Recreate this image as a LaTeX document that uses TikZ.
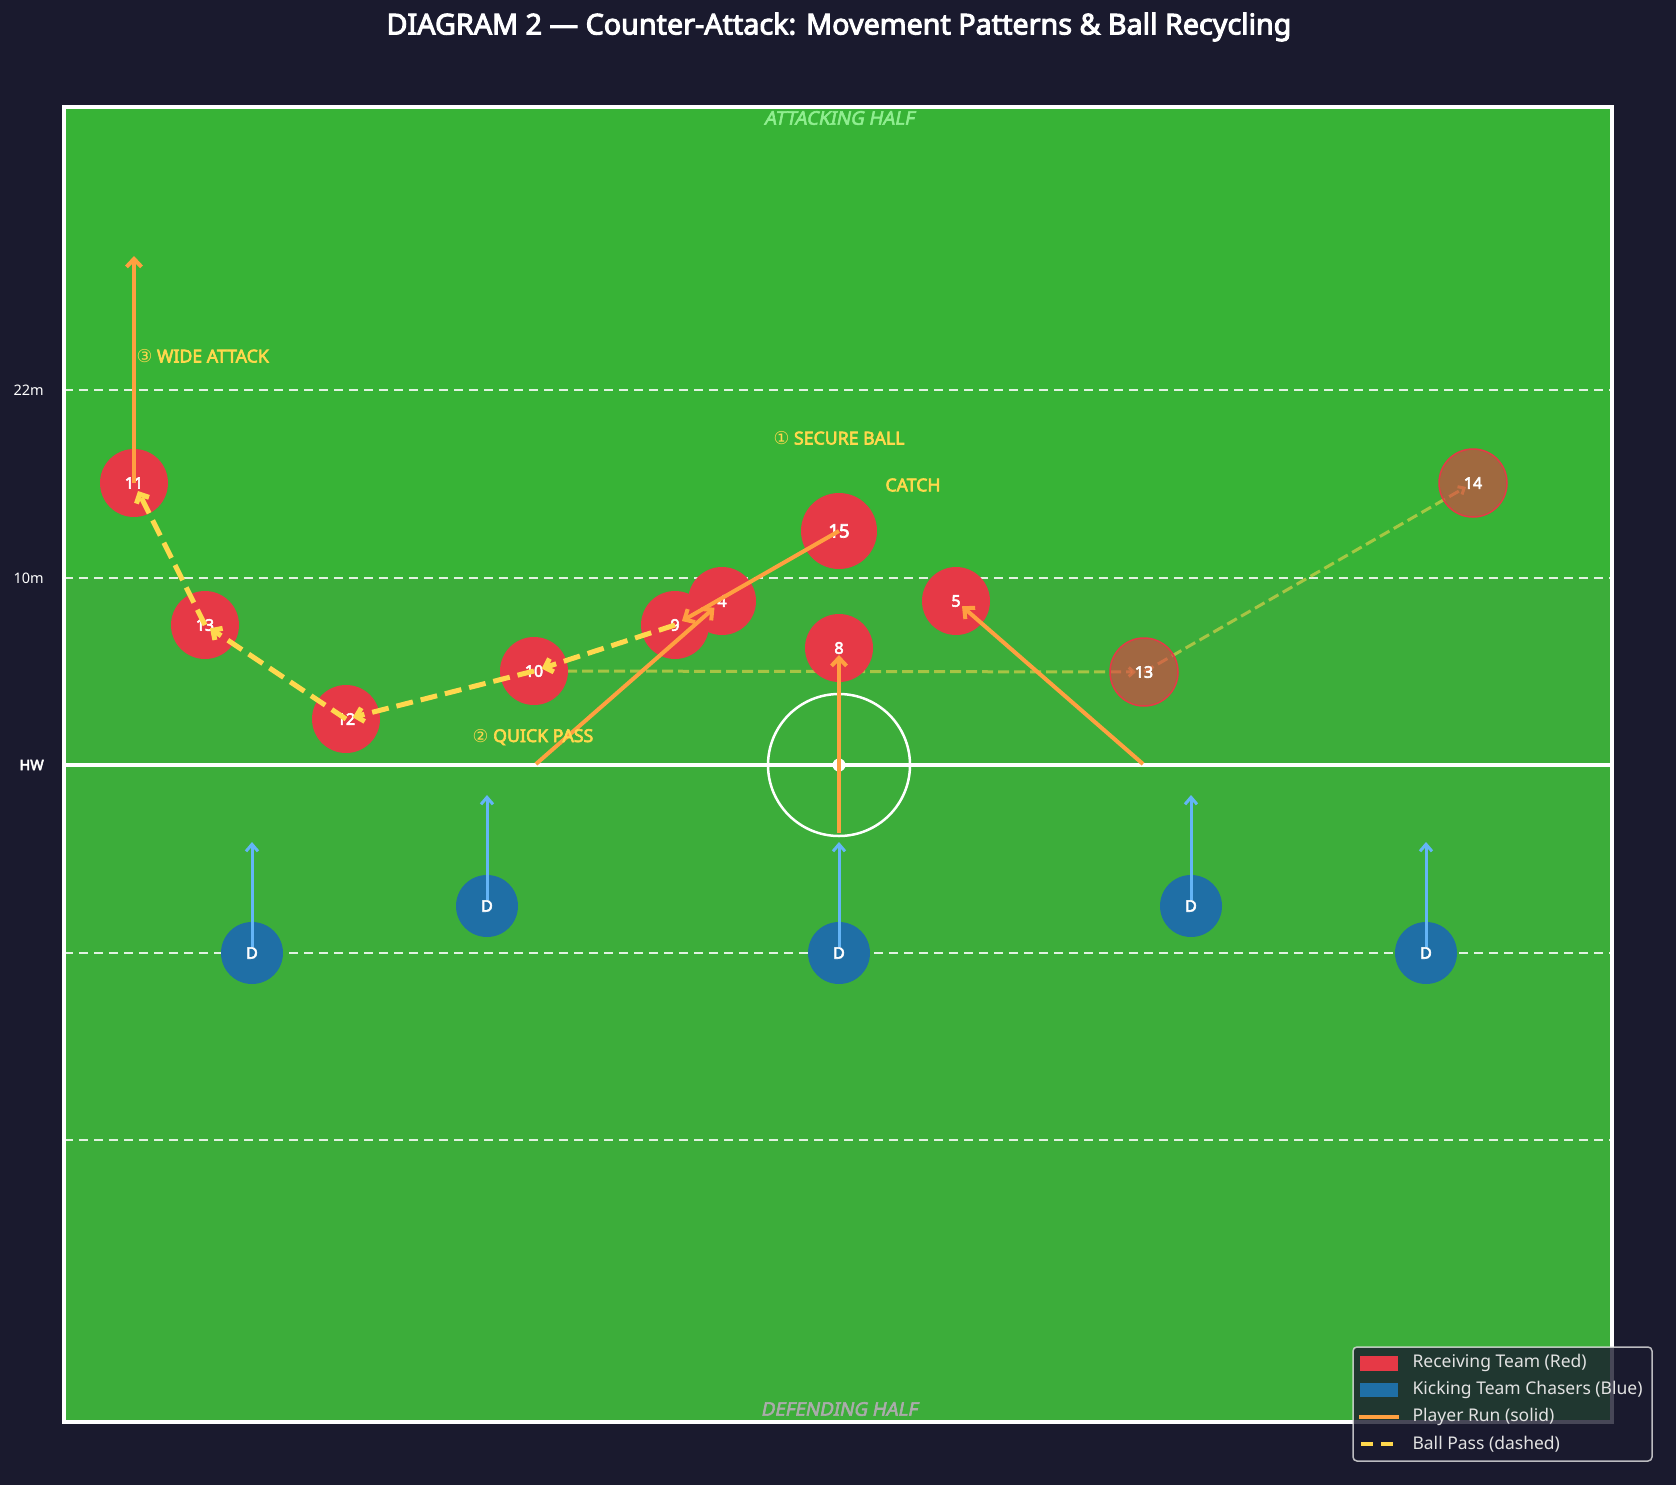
\documentclass[tikz,border=0pt]{standalone}
\usepackage{fontspec}
\setmainfont{Noto Sans}[AutoFakeBold=3.5]
\newfontfamily\circfont{DejaVu Sans}
\newfontfamily\halffont{Noto Sans}[FakeBold=3.2, FakeSlant=0.2]
\usetikzlibrary{arrows.meta}

\definecolor{bgnavy}{HTML}{1A1A2E}
\definecolor{pitchlow}{HTML}{3CAD3A}
\definecolor{pitchtop}{HTML}{37B336}
\definecolor{recred}{HTML}{E63946}
\definecolor{kickblue}{HTML}{1F6FA6}
\definecolor{chaseblue}{HTML}{64B5F6}
\definecolor{runorange}{HTML}{FFA040}
\definecolor{passyellow}{HTML}{FFD84D}
\definecolor{halfgreen}{HTML}{90EE90}
\definecolor{legendtext}{HTML}{E2E2E2}

\tikzset{
    player/.style={circle, fill=recred, text=white, inner sep=0pt, minimum size=68pt,
        font=\fontsize{16}{16}\selectfont\bfseries},
    fullback/.style={player, minimum size=76pt, font=\fontsize{18.5}{18.5}\selectfont\bfseries},
    ghost/.style={player, fill opacity=0.6, text opacity=1, draw=recred, line width=1.5pt},
    chaser/.style={circle, fill=kickblue, text=white, inner sep=0pt, minimum size=62pt,
        font=\fontsize{16}{16}\selectfont\bfseries},
    run/.style={runorange, line width=4pt, -{Straight Barb[length=8pt,width=15pt]}},
    chase/.style={chaseblue, line width=3pt, -{Straight Barb[length=7pt,width=12pt]}},
    pass/.style={passyellow, line width=5pt, dash pattern=on 17pt off 8pt,
        -{Straight Barb[length=7pt,width=14pt]}},
    ghostpass/.style={passyellow, opacity=0.55, line width=3pt, dash pattern=on 11pt off 5pt,
        -{Straight Barb[length=5pt,width=9pt]}},
    pitchline/.style={white, opacity=0.85, line width=2.5pt, dash pattern=on 9pt off 6pt},
    calltext/.style={text=passyellow, font=\fontsize{17.7}{17.7}\selectfont\bfseries},
    sidetext/.style={text=white, anchor=east, inner sep=0pt, font=\fontsize{14.5}{14.5}\selectfont},
    halftext/.style={font=\fontsize{18.7}{18.7}\halffont},
    legendlabel/.style={text=legendtext, anchor=west, font=\fontsize{17.5}{17.5}\selectfont}
}

\begin{document}
\begin{tikzpicture}[x=1pt, y=-1pt]
    \useasboundingbox (0,0) rectangle (1676,1485);

    % Define coordinates for the players
    \coordinate (c11) at (134,483);
    \coordinate (c13) at (205,625);
    \coordinate (c12) at (346,719);
    \coordinate (c10) at (534,671);
    \coordinate (c9) at (675,625);
    \coordinate (c4) at (722,601);
    \coordinate (c15) at (839,531);
    \coordinate (c8) at (839,648);
    \coordinate (c5) at (956,601);
    \coordinate (cg13) at (1144,672);
    \coordinate (cg14) at (1473,483);

    % Background and pitch
    \fill[bgnavy] (0,0) rectangle (1676,1485);
    \fill[pitchlow] (64,107) rectangle (1612,1422);
    \fill[pitchtop] (64,107) rectangle (1612,578);

    % Pitch markings
    \foreach \y in {390, 578, 953, 1140} {
        \draw[pitchline] (64,\y) -- (1612,\y);
    }
    \draw[white, line width=3.5pt] (64,765) -- (1612,765);
    \draw[white, line width=2.5pt] (839,765) circle (71);
    \fill[white] (839,765) circle (6.5);
    \draw[white, line width=3.5pt] (64,107) rectangle (1612,1422);

    % Side markers
    \node[sidetext] (m22) at (44,390) {22m};
    \node[sidetext] (m10) at (44,578) {10m};
    \node[sidetext, font=\fontsize{14.5}{14.5}\selectfont\bfseries] (mhw) at (44,765) {HW};

    % Title and half labels
    \node[text=white, font=\fontsize{28.7}{28.7}\selectfont\bfseries] (title) at (839,27)
        {DIAGRAM 2 — Counter-Attack: Movement Patterns \& Ball Recycling};
    \node[halftext, text=halfgreen] (atk) at (839,118) {ATTACKING HALF};
    \node[halftext, text=white!67!black] (def) at (839,1409) {DEFENDING HALF};

    % Later passes (faded)
    \draw[ghostpass, shorten >=8pt] (c10) -- (cg13);
    \draw[ghostpass, shorten >=8pt] (cg13) -- (cg14);

    % Receiving team
    \node[player] (p11) at (c11) {11};
    \node[player] (p13) at (c13) {13};
    \node[player] (p12) at (c12) {12};
    \node[player] (p10) at (c10) {10};
    \node[player] (p9) at (c9) {9};
    \node[player] (p4) at (c4) {4};
    \node[fullback] (p15) at (c15) {15};
    \node[player] (p8) at (c8) {8};
    \node[player] (p5) at (c5) {5};
    \node[ghost] (g13) at (cg13) {13};
    \node[ghost] (g14) at (cg14) {14};

    % Kicking team chasers
    \foreach \x/\y [count=\i] in {252/953, 487/906, 839/953, 1191/906, 1426/953} {
        \node[chaser] (d\i) at (\x,\y) {D};
        \coordinate (dt\i) at (\x,\y-111);
        \draw[chase, shorten <=6pt] (d\i.center) -- (dt\i);
    }

    % Player runs
    \coordinate (wing) at (134,256);
    \coordinate (lockstart) at (536,764);
    \coordinate (eightstart) at (839,833);
    \coordinate (fivestart) at (1143,764);
    \draw[run] (p11.center) -- (wing);
    \draw[run, shorten >=10pt] (lockstart) -- (p4.center);
    \draw[run, shorten >=8pt] (p15.center) -- (p9.center);
    \draw[run, shorten >=7pt] (eightstart) -- (p8.center);
    \draw[run, shorten >=8pt] (fivestart) -- (p5.center);

    % Ball passes
    \draw[pass, shorten >=8pt] (p9.center) -- (p10.center);
    \draw[pass, shorten >=7pt] (p10.center) -- (p12.center);
    \draw[pass, shorten >=6pt] (p12.center) -- (p13.center);
    \draw[pass, shorten >=9pt] (p13.center) -- (p11.center);

    % Phase labels
    \node[calltext] (secure) at (839,438) {{\circfont\mdseries ①}~SECURE BALL};
    \node[calltext] (catch) at (913,485) {CATCH};
    \node[calltext] (quick) at (533,737) {{\circfont\mdseries ②}~QUICK PASS};
    \node[calltext, anchor=west] (wide) at (133,356) {{\circfont\mdseries ③}~WIDE ATTACK};

    % Legend
    \draw[rounded corners=4pt, fill=bgnavy, fill opacity=0.8, draw=white!80!gray, draw opacity=0.8, line width=1.5pt]
        (1353,1347) rectangle (1652,1461);
    \fill[recred] (1360,1356) rectangle (1398,1371);
    \fill[kickblue] (1360,1383) rectangle (1398,1397);
    \draw[runorange, line width=4pt] (1359,1417) -- (1399,1417);
    \draw[passyellow, line width=4pt, dash pattern=on 12pt off 8pt] (1361,1444) -- (1399,1444);
    \node[legendlabel] (lred) at (1409,1363) {Receiving Team (Red)};
    \node[legendlabel] (lblue) at (1409,1390) {Kicking Team Chasers (Blue)};
    \node[legendlabel] (lrun) at (1409,1417) {Player Run (solid)};
    \node[legendlabel] (lpass) at (1409,1444) {Ball Pass (dashed)};
\end{tikzpicture}
\end{document}
